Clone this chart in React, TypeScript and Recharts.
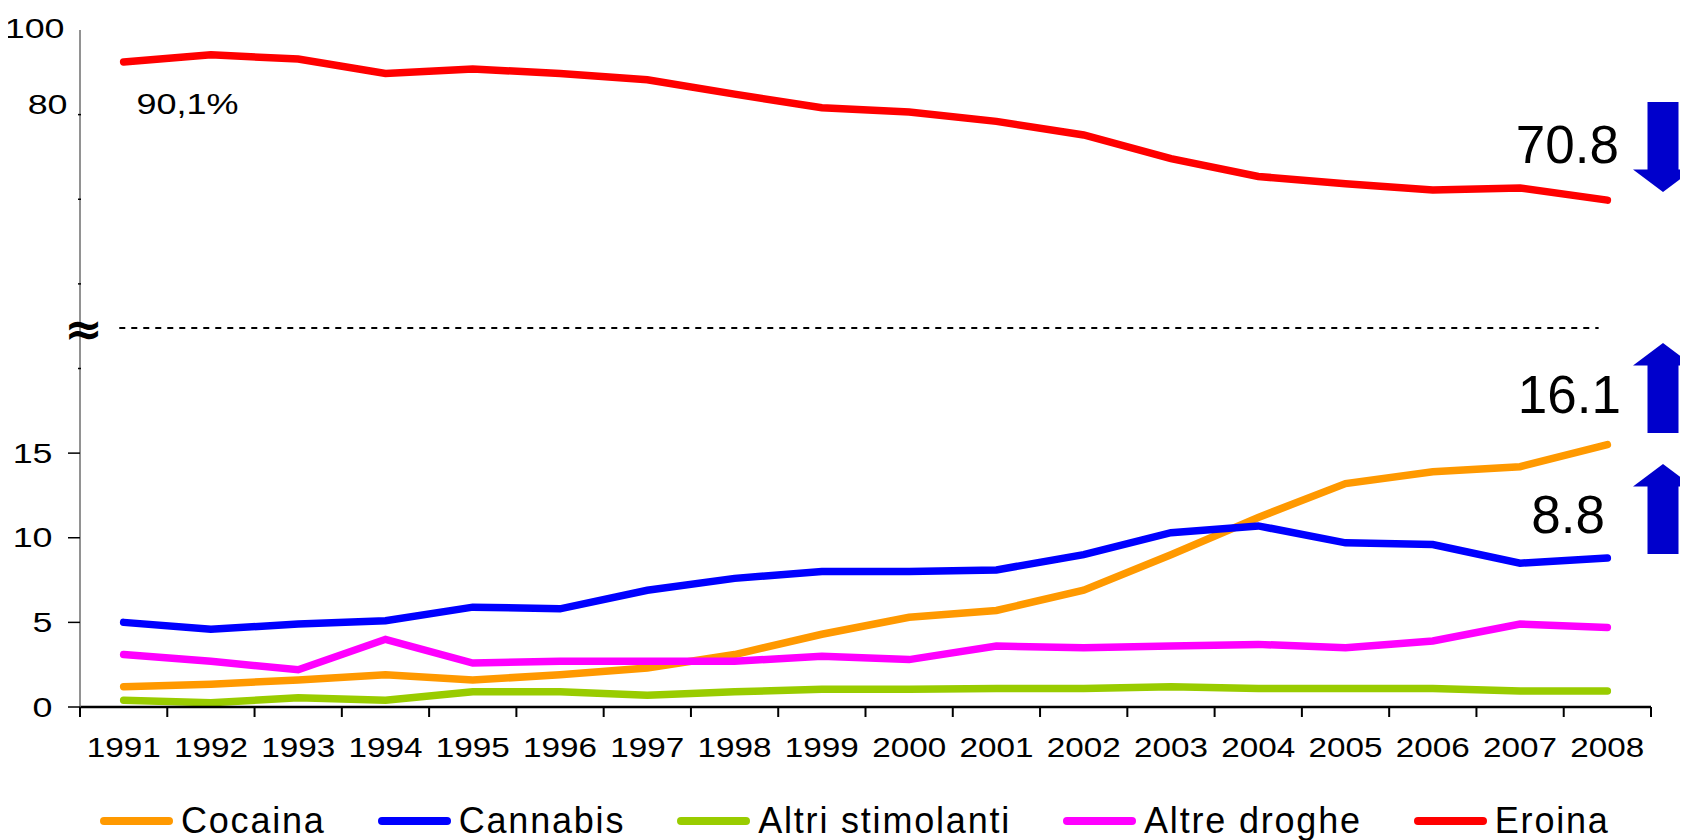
import React from 'react';
import { LineChart, Line, XAxis, YAxis, ReferenceLine } from 'recharts';

// ---- data ----
const years = ['1991','1992','1993','1994','1995','1996','1997','1998','1999','2000','2001','2002','2003','2004','2005','2006','2007','2008'];
const cocaina = [1.2,1.35,1.6,1.9,1.6,1.9,2.3,3.1,4.3,5.3,5.7,6.9,9.0,11.2,13.2,13.9,14.2,15.5];
const cannabis = [5.0,4.6,4.9,5.1,5.9,5.8,6.9,7.6,8.0,8.0,8.1,9.0,10.3,10.7,9.7,9.6,8.5,8.8];
const altriStimolanti = [0.4,0.25,0.55,0.4,0.9,0.9,0.7,0.9,1.05,1.05,1.1,1.1,1.2,1.1,1.1,1.1,0.95,0.95];
const altreDroghe = [3.1,2.7,2.2,4.0,2.6,2.7,2.7,2.7,3.0,2.8,3.6,3.5,3.6,3.7,3.5,3.9,4.9,4.7];
const eroina = [90.1,91.1,90.5,88.5,89.1,88.5,87.6,85.6,83.7,83.1,81.8,79.9,76.6,74.1,73.1,72.2,72.5,70.8];

const yTicks = [0,5,10,15,20,25,30,35,40];
const yTickLabels: Record<number,string> = { 0: '0', 5: '5', 10: '10', 15: '15', 35: '80', 40: '100' };
const annotations = { first: '90,1%', eroinaEnd: '70.8', cocainaEnd: '16.1', cannabisEnd: '8.8' };

// Eroina is drawn on the upper (broken) part of the axis
const EROINA_SCALE = 0.423;
const BREAK_LEVEL = 22.4;

const series = [
  { key: 'cocaina', name: 'Cocaina', color: '#FF9900' },
  { key: 'cannabis', name: 'Cannabis', color: '#0000FF' },
  { key: 'altriStimolanti', name: 'Altri stimolanti', color: '#99CC00' },
  { key: 'altreDroghe', name: 'Altre droghe', color: '#FF00FF' },
  { key: 'eroinaPlot', name: 'Eroina', color: '#FF0000' },
];

const data = years.map((y, i) => ({
  idx: i,
  year: y,
  cocaina: cocaina[i],
  cannabis: cannabis[i],
  altriStimolanti: altriStimolanti[i],
  altreDroghe: altreDroghe[i],
  eroina: eroina[i],
  eroinaPlot: eroina[i] * EROINA_SCALE,
}));

const centerTicks = years.map((_, i) => i);
const xDomain: [number, number] = [-0.5, years.length - 0.5];

const FONT = '"Liberation Sans", Arial, Helvetica, sans-serif';

const W = 1688;
const H = 840;
const MARGIN = { top: 30, right: 37, left: 20, bottom: 83 };
const Y_AXIS_W = 60;
const PLOT_W = W - MARGIN.left - MARGIN.right - Y_AXIS_W;
const STEP = PLOT_W / years.length;

const XLabelTick = (props: any) => {
  const { x, y, payload } = props;
  const i = payload.value;
  const label = years[i];
  if (label === undefined) return <g />;
  return (
    <g>
      <line x1={x - STEP / 2} x2={x - STEP / 2} y1={y} y2={y + 10} stroke="#000" strokeWidth={2} />
      {i === years.length - 1 && (
        <line x1={x + STEP / 2} x2={x + STEP / 2} y1={y} y2={y + 10} stroke="#000" strokeWidth={2} />
      )}
      <text
        transform={`translate(${x},${y + 40}) scale(1.21,1)`}
        textAnchor="middle"
        dominantBaseline="central"
        fontSize={27.5}
        fontFamily={FONT}
        fill="#000"
      >
        {label}
      </text>
    </g>
  );
};

const YTick = (props: any) => {
  const { x, y, payload } = props;
  const v = payload.value;
  const label = yTickLabels[v];
  const lower = v <= 15;
  let dx = -27.5;
  let dy = 0;
  if (v === 35) { dx = -12.5; dy = -10; }
  if (v === 40) { dx = -15.5; dy = -2; }
  return (
    <g>
      {lower ? (
        <line x1={x - 12} x2={x} y1={y} y2={y} stroke="#000" strokeWidth={1.5} />
      ) : v < 40 ? (
        <line x1={x - 2} x2={x + 1} y1={y} y2={y} stroke="#000" strokeWidth={1.5} />
      ) : null}
      {label !== undefined && (
        <text
          transform={`translate(${x + dx},${y + dy}) scale(1.28,1)`}
          textAnchor="end"
          dominantBaseline="central"
          fontSize={28}
          fontFamily={FONT}
          fill="#000"
        >
          {label}
        </text>
      )}
    </g>
  );
};

const Arrow = ({ dir, top, bottom }: { dir: 'up' | 'down'; top: number; bottom: number }) => {
  const cx = 1663;
  const sh = 15.5;
  const hw = 30;
  const hh = 22.5;
  const c = '#0000CC';
  let pts: string;
  if (dir === 'down') {
    const base = bottom - hh;
    pts = `${cx - sh},${top} ${cx + sh},${top} ${cx + sh},${base} ${cx + hw},${base} ${cx},${bottom} ${cx - hw},${base} ${cx - sh},${base}`;
  } else {
    const base = top + hh;
    pts = `${cx},${top} ${cx + hw},${base} ${cx + sh},${base} ${cx + sh},${bottom} ${cx - sh},${bottom} ${cx - sh},${base} ${cx - hw},${base}`;
  }
  return <polygon points={pts} fill={c} />;
};

export default function App() {
  return (
    <div style={{ position: 'relative', left: -8, top: -8, width: W, height: H, overflow: 'hidden', fontFamily: FONT, background: '#fff' }}>
      <LineChart width={W} height={H} data={data} margin={MARGIN}>
        <XAxis
          type="number"
          dataKey="idx"
          domain={xDomain}
          ticks={centerTicks}
          interval={0}
          height={50}
          tickSize={0}
          tickMargin={0}
          tickLine={false}
          axisLine={{ stroke: '#000', strokeWidth: 2.5 }}
          tick={<XLabelTick />}
          allowDataOverflow
        />
        <YAxis
          type="number"
          domain={[0, 40]}
          ticks={yTicks}
          interval={0}
          width={Y_AXIS_W}
          tickSize={0}
          tickMargin={0}
          tickLine={false}
          axisLine={{ stroke: '#6e6e6e', strokeWidth: 1.5 }}
          tick={<YTick />}
          allowDataOverflow
        />
        <ReferenceLine
          segment={[{ x: -0.05, y: BREAK_LEVEL }, { x: 16.9, y: BREAK_LEVEL }]}
          stroke="#000"
          strokeWidth={2}
          strokeDasharray="6 6"
          ifOverflow="visible"
        />
        {series.map((s) => (
          <Line
            key={s.key}
            type="linear"
            dataKey={s.key}
            name={s.name}
            stroke={s.color}
            strokeWidth={7.5}
            strokeLinecap="round"
            strokeLinejoin="miter"
            dot={false}
            activeDot={false}
            isAnimationActive={false}
          />
        ))}
      </LineChart>

      <svg width={W} height={H} style={{ position: 'absolute', left: 0, top: 0, pointerEvents: 'none' }}>
        <text x={83.5} y={329} textAnchor="middle" dominantBaseline="central" fontSize={46} fontWeight="bold" fontFamily='"DejaVu Sans", sans-serif' fill="#000">≈</text>
        <text transform="translate(136.5,104) scale(1.2,1)" dominantBaseline="central" fontSize={30} fontFamily={FONT} fill="#000">{annotations.first}</text>
        <text x={1619} y={144} textAnchor="end" dominantBaseline="central" fontSize={53} fontFamily={FONT} fill="#000">{annotations.eroinaEnd}</text>
        <text x={1621} y={394} textAnchor="end" dominantBaseline="central" fontSize={53} fontFamily={FONT} fill="#000">{annotations.cocainaEnd}</text>
        <text x={1605} y={514} textAnchor="end" dominantBaseline="central" fontSize={53} fontFamily={FONT} fill="#000">{annotations.cannabisEnd}</text>
        <Arrow dir="down" top={102} bottom={192} />
        <Arrow dir="up" top={343} bottom={433} />
        <Arrow dir="up" top={464} bottom={554} />
      </svg>

      <div style={{ position: 'absolute', left: 100, top: 803, height: 36, display: 'flex', alignItems: 'center', gap: 52 }}>
        {series.map((s) => (
          <div key={s.key} style={{ display: 'flex', alignItems: 'center' }}>
            <div style={{ width: 73, height: 8, borderRadius: 4, background: s.color }} />
            <span style={{ marginLeft: 8, fontSize: 36, lineHeight: '36px', letterSpacing: '1.8px', color: '#000', whiteSpace: 'nowrap' }}>{s.name}</span>
          </div>
        ))}
      </div>
    </div>
  );
}
